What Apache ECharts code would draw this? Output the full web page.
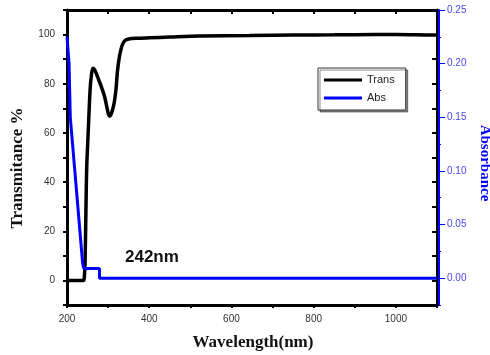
<!DOCTYPE html>
<html>
<head>
<meta charset="utf-8">
<script src="https://cdn.jsdelivr.net/npm/echarts@6/dist/echarts.min.js"></script>
<style>html,body{margin:0;padding:0;background:#fff}#c{width:490px;height:355px}</style>
</head>
<body>
<div id="c"></div>
<script>
// ---- data ----
var transWl  = [200, 220, 240, 242, 244, 246, 248, 252, 256, 259, 263, 268, 275, 283, 291, 297, 301, 304, 307, 311, 315, 319, 323, 327, 331, 335, 341, 350, 370, 402, 450, 523, 645, 750, 850, 950, 1000, 1050, 1100];
var transVal = [0, 0, 0, 1, 8, 28, 46, 62, 77, 83, 86.3, 85.5, 82.5, 79, 75, 70.5, 67.5, 66.8, 67.5, 69.5, 72.5, 77.5, 85.5, 90.5, 93.8, 96, 97.6, 98.2, 98.5, 98.7, 99, 99.4, 99.6, 99.8, 99.9, 100, 100, 99.9, 99.8];
var absWl  = [200, 205, 208, 223, 238, 241, 279, 279, 1100];
var absVal = [0.225, 0.200, 0.150, 0.082, 0.014, 0.009, 0.009, 0, 0];
var xTicks = [200, 400, 600, 800, 1000];
var leftTicks = [0, 20, 40, 60, 80, 100];
var rightTicks = [0, 0.05, 0.10, 0.15, 0.20, 0.25];
var seriesNames = ['Trans', 'Abs'];
var annotation = '242nm';

function zip(a, b) { return a.map(function (v, i) { return [v, b[i]]; }); }

var chart = echarts.init(document.getElementById('c'), null, {renderer: 'canvas'});
var sans = 'Liberation Sans, Arial, sans-serif';
var serif = 'Liberation Serif, Times New Roman, serif';

chart.setOption({
  animation: false,
  backgroundColor: '#fff',
  grid: {left: 67, right: 53, top: 10, bottom: 50, containLabel: false},
  legend: {
    data: seriesNames,
    orient: 'vertical',
    left: 318, top: 68,
    icon: 'rect', itemWidth: 38, itemHeight: 3, itemGap: 4,
    padding: [5, 11, 5, 6],
    borderColor: '#333', borderWidth: 1,
    backgroundColor: '#fff',
    shadowColor: 'rgba(0,0,0,0.45)', shadowOffsetX: 2, shadowOffsetY: 2, shadowBlur: 0,
    textStyle: {fontFamily: sans, fontSize: 11, color: '#222', lineHeight: 14}
  },
  xAxis: [{
    type: 'value', position: 'bottom', min: 200, max: 1100, interval: 100,
    axisLine: {show: true, onZero: false, lineStyle: {color: '#000', width: 3}},
    axisTick: {show: true, inside: false, length: 3, lineStyle: {color: '#000', width: 2}},
    axisLabel: {margin: 9, fontFamily: sans, fontSize: 10, color: '#333',
      formatter: function (v) { return xTicks.indexOf(v) >= 0 ? String(v) : ''; }},
    splitLine: {show: false}
  }, {
    type: 'value', position: 'top', min: 200, max: 1100, interval: 100,
    axisLine: {show: true, onZero: false, lineStyle: {color: '#000', width: 3}},
    axisTick: {show: true, inside: true, length: 4, lineStyle: {color: '#000', width: 2}},
    axisLabel: {show: false}, splitLine: {show: false}
  }],
  yAxis: [{
    type: 'value', position: 'left', min: -10, max: 110, interval: 10,
    axisLine: {show: true, onZero: false, lineStyle: {color: '#000', width: 3}},
    axisTick: {show: true, inside: false, length: 4, lineStyle: {color: '#000', width: 2}},
    axisLabel: {margin: 12, fontFamily: sans, fontSize: 10, color: '#333',
      formatter: function (v) { return leftTicks.indexOf(v) >= 0 ? String(v) : ''; }},
    splitLine: {show: false}
  }, {
    type: 'value', position: 'right', min: -10, max: 110, interval: 10,
    axisLine: {show: true, onZero: false, lineStyle: {color: '#000', width: 3}},
    axisTick: {show: true, inside: true, length: 5, lineStyle: {color: '#000', width: 2}},
    axisLabel: {show: false}, splitLine: {show: false}
  }, {
    type: 'value', position: 'right', offset: 2, min: -0.025, max: 0.25,
    axisLine: {show: true, onZero: false, lineStyle: {color: '#0000ff', width: 2}},
    axisTick: {show: true, inside: false, length: 6, customValues: rightTicks, lineStyle: {color: '#0000ff', width: 1}},
    axisLabel: {margin: 8, fontFamily: sans, fontSize: 10, color: '#4848e8', customValues: rightTicks,
      formatter: function (v) { return v.toFixed(2); }},
    splitLine: {show: false}
  }, {
    type: 'value', position: 'right', offset: 2, min: -0.025, max: 0.25, interval: 0.025,
    axisLine: {show: false},
    axisTick: {show: true, inside: false, length: 2, lineStyle: {color: '#0000ff', width: 1}},
    axisLabel: {show: false}, splitLine: {show: false}
  }],
  series: [{
    name: seriesNames[0], type: 'line', xAxisIndex: 0, yAxisIndex: 0,
    data: zip(transWl, transVal), showSymbol: false, symbol: 'none', smooth: 0.3,
    lineStyle: {color: '#000', width: 3.5}, itemStyle: {color: '#000'}, z: 3
  }, {
    name: seriesNames[1], type: 'line', xAxisIndex: 0, yAxisIndex: 2,
    data: zip(absWl, absVal), showSymbol: false, symbol: 'none',
    lineStyle: {color: '#0000ff', width: 3}, itemStyle: {color: '#0000ff'}, z: 4
  }],
  graphic: [{
    type: 'text', x: 18, y: 168, rotation: Math.PI / 2,
    style: {text: 'Transmitance %', font: 'bold 17px ' + serif, fill: '#111', textAlign: 'center', textVerticalAlign: 'middle'}
  }, {
    type: 'text', x: 485, y: 163, rotation: -Math.PI / 2,
    style: {text: 'Absorbance', font: 'bold 15px ' + serif, fill: '#0000ff', textAlign: 'center', textVerticalAlign: 'middle'}
  }, {
    type: 'text', x: 253, y: 343,
    style: {text: 'Wavelength(nm)', font: 'bold 17px ' + serif, fill: '#111', textAlign: 'center', textVerticalAlign: 'middle'}
  }, {
    type: 'text', x: 125, y: 257,
    style: {text: annotation, font: 'bold 17px ' + sans, fill: '#111', textAlign: 'left', textVerticalAlign: 'middle'}
  }]
});
</script>
</body>
</html>
